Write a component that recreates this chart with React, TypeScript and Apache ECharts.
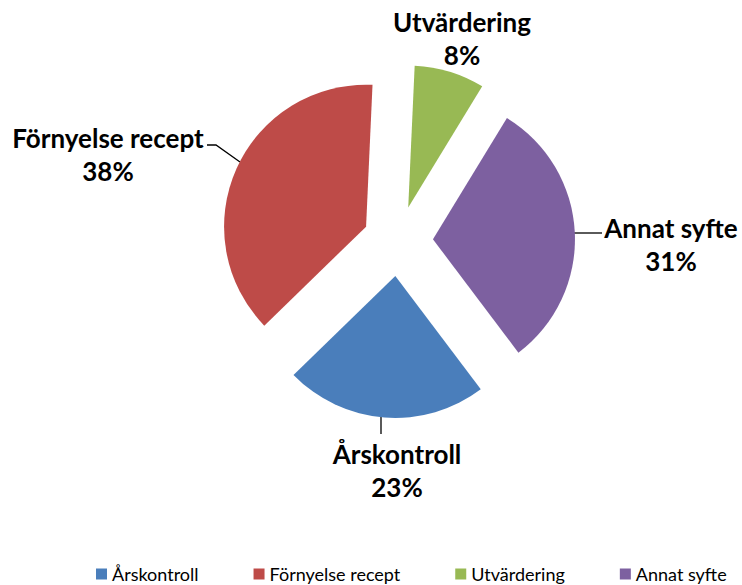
import React, { useEffect, useRef } from "react";
import * as echarts from "echarts";

const categories = ["Årskontroll", "Förnyelse recept", "Utvärdering", "Annat syfte"];
const values = [23, 38, 8, 31];
const colors = ["#4A7EBB", "#BE4B48", "#98B954", "#7D60A0"];

// layout only
const CENTER = [398, 241];
const RADIUS = 142;
const EXPLODE = 35;
const START_ANGLE = 307;
const labelPlacement = [
  { x: 397, y: 470, line: [[381, 417], [381, 434]] },
  { x: 108, y: 154, line: [[240, 162], [216, 145], [207, 145]] },
  { x: 462, y: 38, line: [] as number[][] },
  { x: 671, y: 244, line: [[574, 233], [602, 233]] },
];

export default function App() {
  const ref = useRef<HTMLDivElement>(null);
  useEffect(() => {
    if (!ref.current) return;
    const chart = echarts.init(ref.current, undefined, { renderer: "svg" });
    const total = values.reduce((a, b) => a + b, 0);
    let cum = 0;
    const series = categories.map((_, i) => {
      const mid = START_ANGLE - ((cum + values[i] / 2) / total) * 360;
      cum += values[i];
      const rad = (mid * Math.PI) / 180;
      const cx = CENTER[0] + EXPLODE * Math.cos(rad);
      const cy = CENTER[1] - EXPLODE * Math.sin(rad);
      return {
        type: "pie",
        center: [cx, cy],
        radius: RADIUS,
        startAngle: START_ANGLE,
        clockwise: true,
        silent: true,
        percentPrecision: 0,
        emphasis: { disabled: true },
        data: categories.map((name, j) => ({
          name,
          value: values[j],
          itemStyle: { color: j === i ? colors[j] : "rgba(0,0,0,0)" },
          label: { show: j === i },
          labelLine: { show: j === i && labelPlacement[j].line.length > 0 },
        })),
        label: {
          position: "outside",
          formatter: "{b}\n{d}%",
          fontFamily: "Lato",
          fontWeight: "bold",
          fontSize: 26,
          lineHeight: 33,
          color: "#000",
          align: "center",
          overflow: "none",
          edgeDistance: 0,
        },
        labelLine: {
          length: 15,
          length2: 10,
          lineStyle: { color: "#000", width: 1.3 },
        },
        labelLayout: (params: any) => {
          const o = labelPlacement[params.dataIndex];
          const res: any = {
            x: o.x,
            y: o.y,
            width: 240,
            align: "center",
            verticalAlign: "middle",
          };
          if (o.line.length) res.labelLinePoints = o.line;
          return res;
        },
      };
    });
    chart.setOption({
      animation: false,
      backgroundColor: "#ffffff",
      legend: {
        data: categories.map((name, i) => ({ name, itemStyle: { color: colors[i] } })),
        left: 91,
        top: 560,
        icon: "rect",
        itemWidth: 11,
        itemHeight: 11,
        itemGap: 55,
        selectedMode: false,
        textStyle: { fontFamily: "Lato", fontSize: 18, color: "#000" },
      },
      series,
    });
    return () => chart.dispose();
  }, []);
  return (
    <div
      ref={ref}
      style={{ position: "fixed", left: 0, top: 0, width: 742, height: 585 }}
    />
  );
}
